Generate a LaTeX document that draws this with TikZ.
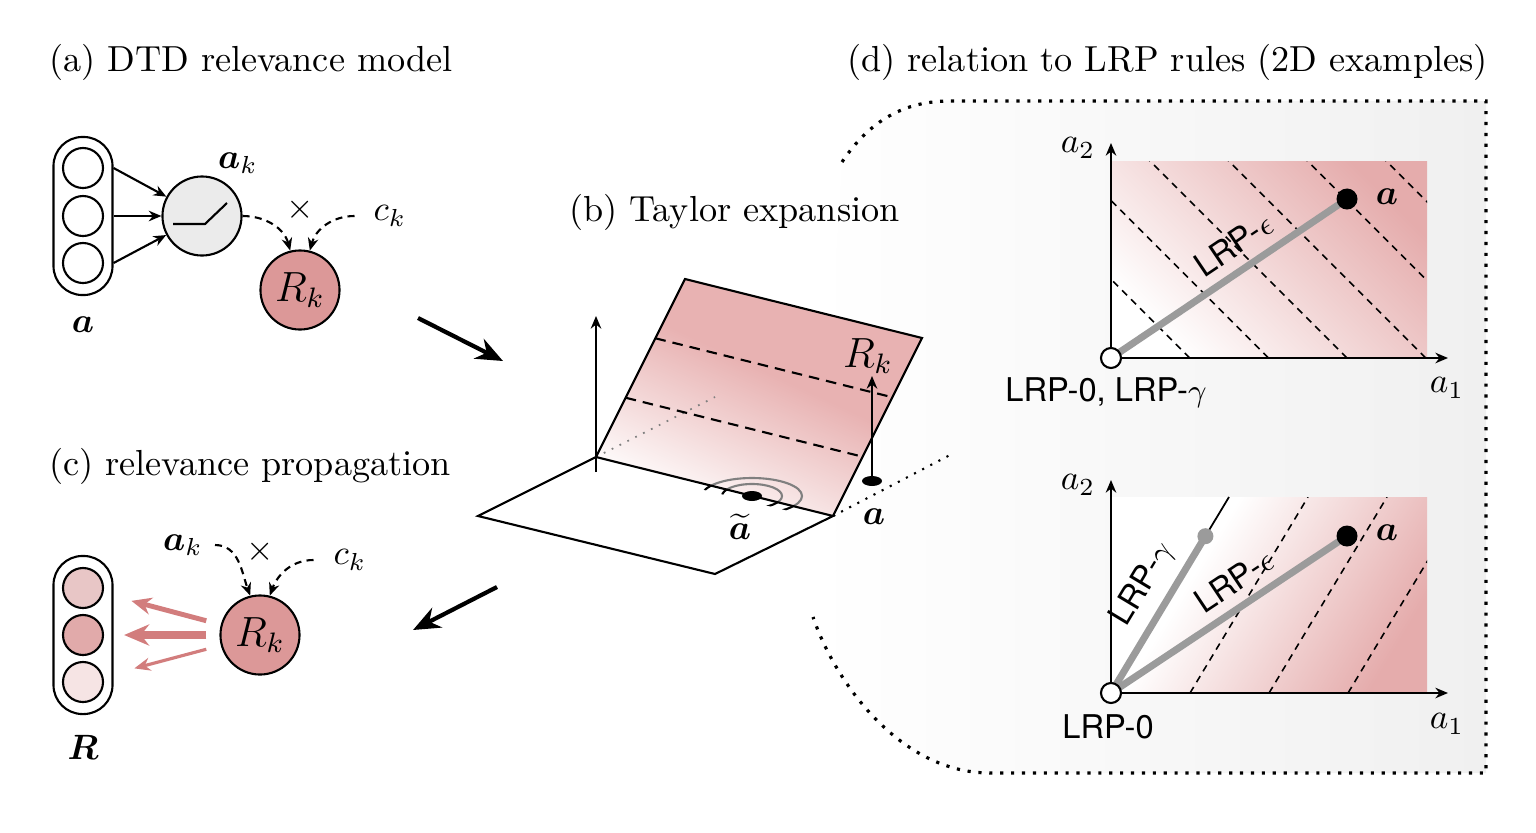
\documentclass[tikz,border=0pt]{standalone}
\usepackage{amsmath}
\usepackage{bm}
\usepackage{fontspec}
\newfontfamily\lrpfont{TeX Gyre Heros}
\usetikzlibrary{arrows.meta,calc,shapes.geometric}

\definecolor{rkred}{RGB}{220,152,152}
\definecolor{neurongray}{RGB}{235,235,235}
\definecolor{relred}{RGB}{210,125,125}
\definecolor{rtop}{RGB}{232,198,198}
\definecolor{rmid}{RGB}{225,170,170}
\definecolor{rbot}{RGB}{246,228,228}
\definecolor{planepink}{RGB}{232,178,178}
\definecolor{plotpink}{RGB}{229,172,172}
\definecolor{lrpgray}{RGB}{155,155,155}
\definecolor{bggray}{RGB}{240,240,240}

\pgfdeclarehorizontalshading{fadeR}{100bp}{color(0bp)=(white); color(25bp)=(white); color(36bp)=(white); color(75bp)=(plotpink); color(100bp)=(plotpink)}
\pgfdeclareverticalshading{planeFade}{100bp}{color(0bp)=(white); color(25bp)=(white); color(55bp)=(planepink); color(100bp)=(planepink)}

\begin{document}
\begin{tikzpicture}[x=0.01cm, y=0.01cm, >={Stealth[length=3.6pt,width=3pt]}]
	\tikzstyle{every node}=[align=center, inner sep=1pt, font=\fontsize{10}{12}\selectfont]
	\tikzstyle{title}=[anchor=west, font=\fontsize{10.3}{13}\selectfont]
	\tikzstyle{unit}=[circle, draw, line width=0.6pt, minimum size=0.4cm, inner sep=0pt]
	\tikzstyle{bigunit}=[circle, draw, line width=0.6pt, minimum size=0.79cm, inner sep=0pt, font=\fontsize{11.5}{13}\selectfont]
	\tikzstyle{layer}=[draw, line width=0.6pt, rounded corners=0.29cm, minimum width=0.59cm, minimum height=1.58cm, inner sep=0pt]
	\tikzstyle{flow}=[line width=0.6pt, dash pattern=on 2pt off 1.5pt, ->]
	\tikzstyle{stepArrow}=[line width=1.2pt, -{Stealth[length=0.27cm,width=0.22cm]}]
	\tikzstyle{relarrow}=[relred]
	\tikzstyle{frame}=[line width=0.9pt, dash pattern=on 0.9pt off 2.2pt]
	\tikzstyle{axisarrow}=[line width=0.5pt, ->]
	\tikzstyle{isoline}=[line width=0.45pt, dash pattern=on 2pt off 1.6pt]
	\tikzstyle{lrpline}=[lrpgray, line width=2pt]
	\tikzstyle{lrplabel}=[font=\lrpfont\fontsize{9.3}{11}\selectfont]
	\tikzstyle{bigdot}=[circle, fill=black, minimum size=0.21cm, inner sep=0pt]
	\tikzstyle{origin}=[circle, draw, fill=white, line width=0.6pt, minimum size=0.2cm, inner sep=0pt]
	\tikzstyle{contour}=[line width=0.6pt]
	\useasboundingbox (0,0) rectangle (1536,832);

	% background of (d), under everything else
	\shade[left color=white, right color=bggray] (842,670) .. controls (870,712) and (905,731) .. (950,731) -- (1486,731) -- (1486,59) -- (990,59) .. controls (900,59) and (835,150) .. (813,215) -- cycle;
	\draw[frame] (842,670) .. controls (870,712) and (905,731) .. (950,731) -- (1486,731) -- (1486,59) -- (990,59) .. controls (900,59) and (835,150) .. (813,215);

	% (a) DTD relevance model
	\node[title] (titleA) at (45,770) {(a) DTD relevance model};
	\node[layer] (layerA) at (83,616) {};
	\node[unit] (a1) at (83,664) {};
	\node[unit] (a2) at (83,616) {};
	\node[unit] (a3) at (83,569) {};
	\node (labelA) at (83,507) {$\bm{a}$};
	\node[bigunit, fill=neurongray] (neuron) at (202,616) {};
	\draw[line width=0.6pt] ([shift={(-29,-8)}]neuron.center) -- ++(32,0) -- ++(22,21);
	\node (ak) at (238,669) {$\bm{a}_k$};
	\node[bigunit, fill=rkred] (Rk) at (300,542) {$R_k$};
	\node (timesA) at (300,622) {$\times$};
	\node (ck) at (390,616) {$c_k$};
	\foreach \u in {a1,a2,a3}
		\draw[->, line width=0.6pt] (layerA.east |- \u) -- (neuron);
	\draw[flow] (neuron.east) to[out=0, in=105] (Rk.104);
	\draw[flow] ([xshift=-0.15cm]ck.west) to[out=180, in=75] (Rk.76);

	% (c) relevance propagation
	\node[title] (titleC) at (45,366) {(c) relevance propagation};
	\node[layer] (layerC) at (83,197) {};
	\node[unit, fill=rtop] (r1) at (83,244) {};
	\node[unit, fill=rmid] (r2) at (83,197) {};
	\node[unit, fill=rbot] (r3) at (83,150) {};
	\node (labelR) at (83,85) {$\bm{R}$};
	\node[bigunit, fill=rkred] (Rk2) at (260,197) {$R_k$};
	\node (ak2) at (183,287) {$\bm{a}_k$};
	\node (timesC) at (260,280) {$\times$};
	\node (ck2) at (350,272) {$c_k$};
	\draw[flow] ([xshift=0.08cm]ak2.east) to[out=0, in=110] (Rk2.104);
	\draw[flow] ([xshift=-0.16cm]ck2.west) to[out=180, in=70] (Rk2.76);
	\draw[relarrow, line width=1.4pt, shorten <=0.15cm, shorten >=0.29cm, -{Stealth[length=0.2cm,width=0.17cm]}] (Rk2) -- (r1);
	\draw[relarrow, line width=2pt, shorten <=0.13cm, shorten >=0.2cm, -{Stealth[length=0.25cm,width=0.21cm]}] (Rk2) -- (r2);
	\draw[relarrow, line width=0.9pt, shorten <=0.15cm, shorten >=0.32cm, -{Stealth[length=0.16cm,width=0.13cm]}] (Rk2) -- (r3);

	% arrows between panels
	\coordinate (ab0) at (418,514);
	\coordinate (ab1) at (503,471);
	\draw[stepArrow] (ab0) -- (ab1);
	\coordinate (bc0) at (497,245);
	\coordinate (bc1) at (413,202);
	\draw[stepArrow] (bc0) -- (bc1);

	% (b) Taylor expansion
	\node[title] (titleB) at (565,620) {(b) Taylor expansion};
	\coordinate (fL) at (478,316);
	\coordinate (fT) at (596,375);
	\coordinate (fR) at (833,316);
	\coordinate (fB) at (715,258);
	\coordinate (pT1) at (685,553);
	\coordinate (pT2) at (922,494);
	\coordinate (at0) at (752,336);
	\shade[shading=planeFade, shading angle=-25] (fT) -- (fR) -- (pT2) -- (pT1) -- cycle;
	\coordinate (hid) at (715,435);
	\draw[gray, dotted, line width=0.5pt] (fT) -- (hid);
	\foreach \t in {0.333,0.667}
		\draw[line width=0.6pt, dash pattern=on 3pt off 2pt] ($(fT)!\t!(pT1)$) -- ($(fR)!\t!(pT2)$);
	\begin{scope}
		\clip (fT) -- (fR) -- (pT2) -- (pT1) -- cycle;
		\draw[contour, gray] (at0) ellipse [x radius=0.30cm, y radius=0.12cm];
		\draw[contour, gray] (at0) ellipse [x radius=0.50cm, y radius=0.18cm];
	\end{scope}
	\begin{scope}
		\clip (fT) -- (fR) -- ($(fR)+(0,-6)$) -- ($(fT)+(0,-6)$) -- cycle;
		\draw[contour] (at0) ellipse [x radius=0.30cm, y radius=0.12cm];
		\draw[contour] (at0) ellipse [x radius=0.50cm, y radius=0.18cm];
	\end{scope}
	\draw[line width=0.6pt] (fL) -- (fT) -- (fR) -- (fB) -- cycle;
	\draw[line width=0.6pt] (fT) -- (pT1) -- (pT2) -- (fR);
	\coordinate (zb) at (596,360);
	\coordinate (zt) at (596,516);
	\draw[axisarrow] (zb) -- (zt);
	\coordinate (dotEnd) at (950,377);
	\draw[dotted, line width=0.6pt] (fR) -- (dotEnd);
	\node[ellipse, fill, minimum width=0.2cm, minimum height=0.1cm, inner sep=0pt] (pB) at (872,351) {};
	\coordinate (rTop) at (872,456);
	\draw[axisarrow] (pB.center) -- (rTop);
	\node (RkB) at (868,476) {\fontsize{11.5}{13}\selectfont$R_k$};
	\node (aB) at (874,315) {$\bm{a}$};
	\node[ellipse, fill, minimum width=0.2cm, minimum height=0.1cm, inner sep=0pt] (ptB) at (at0) {};
	\node (atB) at (740,305) {$\widetilde{\bm{a}}$};

	% (d) relation to LRP rules
	\node[title] (titleD) at (843,770) {(d) relation to LRP rules (2D examples)};

	% top example
	\coordinate (o1) at (1111,474);
	\coordinate (p1) at (1347,633);
	\coordinate (x1) at (1448,474);
	\coordinate (y1) at (1111,689);
	\shade[top color=plotpink, bottom color=white, shading angle=-45] (o1) rectangle (1427,671);
	\begin{scope}
		\clip (o1) rectangle (1427,671);
		\foreach \k in {1,...,6}
			\draw[isoline] (1111+78.7*\k,474) -- ++(-400,400);
	\end{scope}
	\draw[axisarrow] (o1) -- (x1);
	\draw[axisarrow] (o1) -- (y1);
	\draw[lrpline] (o1) -- node[lrplabel, black, sloped, above=2pt, pos=0.58] (epsTop) {LRP-$\epsilon$} (p1);
	\node[origin] (O1) at (o1) {};
	\node[bigdot] (A1) at (p1) {};
	\node (aTop) at (1387,635) {$\bm{a}$};
	\node (a2Top) at (1078,684) {$a_2$};
	\node (a1Top) at (1447,444) {$a_1$};
	\node[lrplabel] (rulesTop) at (1106,439) {LRP-0, LRP-$\gamma$};

	% bottom example
	\coordinate (o2) at (1111,139);
	\coordinate (p2) at (1347,296);
	\coordinate (x2) at (1448,139);
	\coordinate (y2) at (1111,352);
	\coordinate (g2) at (1229,335);
	\coordinate (gp) at ($(o2)!0.8!(g2)$);
	\shade[shading=fadeR, shading angle=-31] (o2) rectangle (1427,335);
	\begin{scope}
		\clip (o2) rectangle (1427,335);
		\foreach \k in {1,2,3}
			\draw[isoline] (1111+79*\k,139) -- ++(118,196);
	\end{scope}
	\draw[line width=0.5pt] (gp) -- (g2);
	\draw[axisarrow] (o2) -- (x2);
	\draw[axisarrow] (o2) -- (y2);
	\draw[lrpline] (o2) -- node[lrplabel, black, sloped, above=2pt, pos=0.6] (gamBot) {LRP-$\gamma$} (gp);
	\draw[lrpline] (o2) -- node[lrplabel, black, sloped, above=2pt, pos=0.58] (epsBot) {LRP-$\epsilon$} (p2);
	\node[circle, fill=lrpgray, minimum size=0.16cm, inner sep=0pt] (G2) at (gp) {};
	\node[origin] (O2) at (o2) {};
	\node[bigdot] (A2) at (p2) {};
	\node (aBot) at (1387,299) {$\bm{a}$};
	\node (a2Bot) at (1078,347) {$a_2$};
	\node (a1Bot) at (1447,108) {$a_1$};
	\node[lrplabel] (rulesBot) at (1108,105) {LRP-0};
\end{tikzpicture}
\end{document}
